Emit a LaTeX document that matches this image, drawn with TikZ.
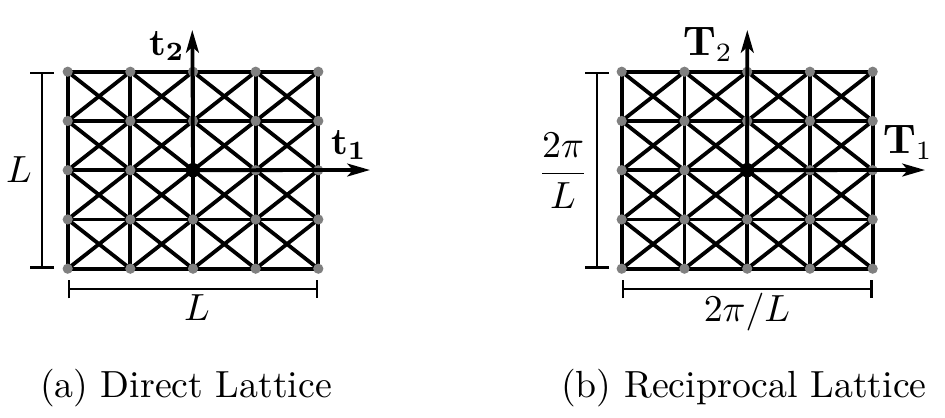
\documentclass[tikz,border=0pt]{standalone}
\usetikzlibrary{arrows.meta}

\tikzset{
  bond/.style={line width=1pt, color=black},
  site/.style={circle, fill=gray, inner sep=0pt, minimum size=2.7pt},
  origin/.style={circle, fill=black, inner sep=0pt, minimum size=3.8pt},
  axis/.style={line width=1pt, -{Stealth[length=6pt, width=3.4pt, inset=1.5pt]}},
  dimbar/.style={semithick},
  biglabel/.style={inner sep=0pt, anchor=base west, font=\fontsize{10.6}{13}\selectfont},
}

\begin{document}
\begin{tikzpicture}[x=0.26455pt, y=-0.26455pt]
  \useasboundingbox (0,0) rectangle (945,417);

  % Lattice sites: a = direct, b = reciprocal
  \foreach \i in {0,...,4}
    \foreach \j in {0,...,4} {
      \coordinate (a\i\j) at (67.7+62.65*\i, 71.7+49.25*\j);
      \coordinate (b\i\j) at (621.7+62.75*\i, 71.7+49.25*\j);
    }

  % Bonds
  \foreach \l in {a,b} {
    \foreach \k in {0,...,4} {
      \draw[bond] (\l0\k) -- (\l4\k);
      \draw[bond] (\l\k0) -- (\l\k4);
    }
    \foreach \i in {0,...,3}
      \foreach \j in {0,...,3} {
        \pgfmathtruncatemacro{\ni}{\i+1}
        \pgfmathtruncatemacro{\nj}{\j+1}
        \draw[bond] (\l\i\j) -- (\l\ni\nj);
        \draw[bond] (\l\ni\j) -- (\l\i\nj);
      }
    \foreach \i in {0,...,4}
      \foreach \j in {0,...,4}
        \node[site] (s\l\i\j) at (\l\i\j) {};
  }

  % Direct lattice vectors
  \coordinate (t1end) at (370,170);
  \coordinate (t2end) at (192.3,30);
  \draw[axis] (a22) -- (t1end);
  \draw[axis] (a22) -- (t2end);
  \node[origin] (oa) at (a22) {};
  \node (t1) at (349,145) {$\mathbf{t_1}$};
  \node (t2) at (167,46) {$\mathbf{t_2}$};

  % Reciprocal lattice vectors
  \coordinate (T1end) at (925,170);
  \coordinate (T2end) at (747.3,30);
  \draw[axis] (b22) -- (T1end);
  \draw[axis] (b22) -- (T2end);
  \node[origin] (ob) at (b22) {};
  \node[biglabel] (T1) at (882,153) {$\mathbf{T}_1$};
  \node[biglabel] (T2) at (682,55) {$\mathbf{T}_2$};

  % Dimensions
  \coordinate (av0) at (42.3,71.7);
  \coordinate (av1) at (42.3,268.7);
  \coordinate (ah0) at (67.7,289.3);
  \coordinate (ah1) at (318.3,289.3);
  \draw[dimbar, {Bar[width=6.3pt]}-{Bar[width=6.3pt]}] (av0) -- (av1);
  \draw[dimbar, {Bar[width=4.8pt]}-{Bar[width=4.8pt]}] (ah0) -- (ah1);
  \node (la) at (19,170) {$L$};
  \node (lb) at (197,308) {$L$};

  \coordinate (bv0) at (597.3,71.7);
  \coordinate (bv1) at (597.3,268.7);
  \coordinate (bh0) at (621.7,289.3);
  \coordinate (bh1) at (872.7,289.3);
  \draw[dimbar, {Bar[width=6.3pt]}-{Bar[width=6.3pt]}] (bv0) -- (bv1);
  \draw[dimbar, {Bar[width=4.8pt]}-{Bar[width=4.8pt]}] (bh0) -- (bh1);
  \node (ga) at (563,171) {$\displaystyle\frac{2\pi}{L}$};
  \node (gb) at (747,312) {$2\pi/L$};

  % Captions
  \node (capa) at (186,388) {(a) Direct Lattice};
  \node (capb) at (744,388) {(b) Reciprocal Lattice};
\end{tikzpicture}
\end{document}
